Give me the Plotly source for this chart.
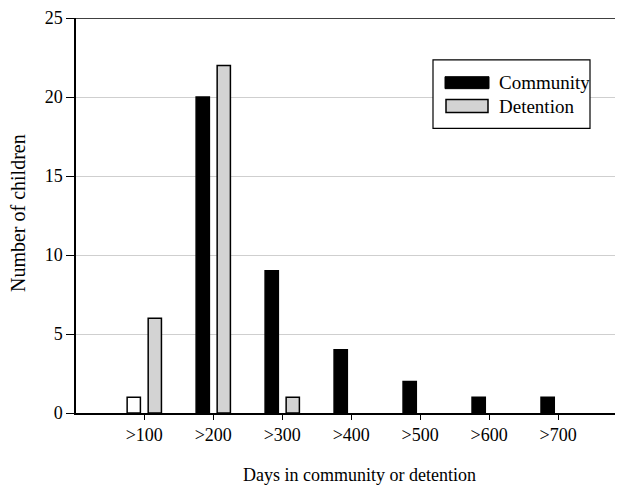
import plotly.graph_objects as go

categories = [">100", ">200", ">300", ">400", ">500", ">600", ">700"]
community = [1, 20, 9, 4, 2, 1, 1]
detention = [6, 22, 1, 0, 0, 0, 0]
y_ticks = [0, 5, 10, 15, 20, 25]

FONT = "Liberation Serif"
OFF = 8  # default page body margin
W, H = 623 - OFF, 488 - OFF
# plot area in screen pixels
SL, ST, SR, SB = 76, 16, 623, 413
L, T = SL - OFF, ST - OFF
R, B = 0, 488 - SB
PW, PH = SR - SL, SB - ST

def px(x):
    return (x - SL) / PW

def py(y):
    return (SB - y) / PH

xpos = list(range(len(categories)))
community_colors = ["white"] + ["black"] * (len(categories) - 1)
community_lw = [1.5 if v > 0 else 0 for v in community]
detention_lw = [1.5 if v > 0 else 0 for v in detention]

fig = go.Figure()
fig.add_trace(go.Bar(
    x=xpos, y=community, name="Community",
    marker=dict(color=community_colors, line=dict(color="black", width=community_lw)),
    showlegend=False,
))
fig.add_trace(go.Bar(
    x=xpos, y=detention, name="Detention",
    marker=dict(color="#d3d3d3", line=dict(color="black", width=detention_lw)),
    showlegend=False,
))

shapes = [
    dict(type="line", xref="paper", yref="y", x0=0, x1=1, y0=25, y1=25,
         line=dict(color="black", width=1.5)),
    # legend box
    dict(type="rect", xref="paper", yref="paper", x0=px(433), x1=px(590), y0=py(127), y1=py(58),
         line=dict(color="black", width=1.2), fillcolor="white", layer="above"),
    dict(type="rect", xref="paper", yref="paper", x0=px(445), x1=px(489), y0=py(87), y1=py(75),
         line=dict(color="black", width=1), fillcolor="black", layer="above"),
    dict(type="rect", xref="paper", yref="paper", x0=px(446), x1=px(488), y0=py(111), y1=py(98),
         line=dict(color="black", width=1.5), fillcolor="#d3d3d3", layer="above"),
]

annotations = [
    dict(text="Community", xref="paper", yref="paper", x=px(497), y=py(81),
         xanchor="left", yanchor="middle", showarrow=False,
         font=dict(family=FONT, size=19, color="black")),
    dict(text="Detention", xref="paper", yref="paper", x=px(497), y=py(105),
         xanchor="left", yanchor="middle", showarrow=False,
         font=dict(family=FONT, size=19, color="black")),
    dict(text="Days in community or detention", xref="paper", yref="paper",
         x=px(359), y=py(475), xanchor="center", yanchor="middle", showarrow=False,
         font=dict(family=FONT, size=18, color="black")),
    dict(text="Number of children", xref="paper", yref="paper", textangle=-90,
         x=px(18), y=py(212), xanchor="center", yanchor="middle", showarrow=False,
         font=dict(family=FONT, size=20, color="black")),
]

fig.update_layout(
    width=W, height=H,
    margin=dict(l=L, r=R, t=T, b=B, pad=0),
    paper_bgcolor="white", plot_bgcolor="white",
    barmode="group", bargap=0.39, bargroupgap=0.37,
    font=dict(family=FONT, size=18, color="black"),
    shapes=shapes, annotations=annotations,
    xaxis=dict(
        range=[-0.99, 6.94], tickmode="array", tickvals=xpos, ticktext=categories,
        showgrid=False, zeroline=False, showline=True, linecolor="black", linewidth=1.5,
        ticks="outside", ticklen=5, tickcolor="black", tickwidth=1.2,
        tickfont=dict(family=FONT, size=18, color="black"),
    ),
    yaxis=dict(
        range=[0, 25], tickmode="array", tickvals=y_ticks,
        showgrid=True, gridcolor="#cfcfcf", gridwidth=1, zeroline=False,
        showline=True, linecolor="black", linewidth=1.5,
        ticks="outside", ticklen=8, tickcolor="black", tickwidth=1.2,
        ticklabeloverflow="allow",
        tickfont=dict(family=FONT, size=18, color="black"),
    ),
)

fig.write_html("out.html")
